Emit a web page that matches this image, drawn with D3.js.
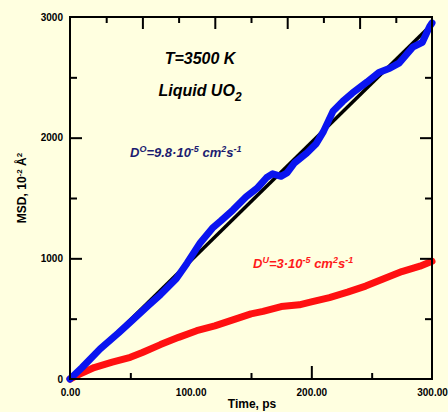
<!DOCTYPE html>
<html><head><meta charset="utf-8">
<script src="https://cdn.jsdelivr.net/npm/d3@7"></script>
<style>
html,body{margin:0;padding:0;background:#ffffe0;}
svg{display:block;}
</style></head>
<body>
<svg id="c" width="448" height="412"></svg>
<script>
// ---- data ----
const oxygenTime = [0,10,25,40,52,65,75,88,97,108,118,125,135,146,155,163,168,175,180,186,196,204,210,218,226,234,246,256,265,273,284,292,298,300];
const oxygenMSD  = [0,95,250,380,490,610,700,830,960,1130,1250,1310,1400,1510,1580,1670,1700,1680,1710,1790,1870,1950,2050,2220,2300,2370,2460,2540,2575,2620,2750,2790,2920,2950];
const uraniumTime = [0,8,20,35,50,60,75,90,105,120,135,150,160,175,190,200,215,230,245,260,275,290,300];
const uraniumMSD  = [0,40,95,140,180,220,285,345,400,440,490,540,560,600,615,640,675,720,770,830,890,935,975];
const fitTime = [0,300];
const fitMSD  = [0,2940];
const xLabelTicks = [0,100,200,300];
const xBottomMinor = [50,150,250];
const xBottomMajor = [200];
const xTopMinor = [30,90,150,210,270];
const xTopMajor = [60,120,180,240];
const yLabelTicks = [0,1000,2000,3000];
const yMinor = [500,1500,2500];
const yMajor = [1000,2000];

const svg = d3.select("#c");
const L=70,R=432,T=17,B=379;
const x = d3.scaleLinear().domain([0,300]).range([L,R]);
const y = d3.scaleLinear().domain([0,3000]).range([B,T]);

function tickAxis(axisFn, scale, vals, len, tx, ty){
  const g = svg.append("g").attr("transform",`translate(${tx},${ty})`)
    .call(axisFn(scale).tickValues(vals).tickSize(-len).tickFormat(""));
  g.select(".domain").remove();
  g.selectAll("line").attr("stroke","#000").attr("stroke-width",2);
}
// data lines
const line = d3.line().x(d=>x(d[0])).y(d=>y(d[1]));
svg.append("path").datum(fitTime.map((t,i)=>[t,fitMSD[i]])).attr("d",line)
  .attr("fill","none").attr("stroke","#000").attr("stroke-width",3.5);
svg.append("path").datum(uraniumTime.map((t,i)=>[t,uraniumMSD[i]])).attr("d",line)
  .attr("fill","none").attr("stroke","#ff1010").attr("stroke-width",7).attr("stroke-linejoin","round").attr("stroke-linecap","round");
svg.append("path").datum(oxygenTime.map((t,i)=>[t,oxygenMSD[i]])).attr("d",line)
  .attr("fill","none").attr("stroke","#0a14f0").attr("stroke-width",7).attr("stroke-linejoin","round").attr("stroke-linecap","round");

// ticks
tickAxis(d3.axisBottom, x, xBottomMinor, 6, 0, B);
tickAxis(d3.axisBottom, x, xBottomMajor, 13, 0, B);
tickAxis(d3.axisTop, x, xTopMinor, 6, 0, T);
tickAxis(d3.axisTop, x, xTopMajor, 12, 0, T);
tickAxis(d3.axisLeft, y, yMinor, 7, L, 0);
tickAxis(d3.axisLeft, y, yMajor, 12, L, 0);
tickAxis(d3.axisRight, y, yMinor, 7, R, 0);
tickAxis(d3.axisRight, y, yMajor, 12, R, 0);

// frame
svg.append("rect").attr("x",L).attr("y",T).attr("width",R-L).attr("height",B-T)
  .attr("fill","none").attr("stroke","#000").attr("stroke-width",2);

// tick labels
const fontF = "Liberation Sans, Arial, sans-serif";
const xl = svg.append("g").attr("transform",`translate(0,${B})`)
  .call(d3.axisBottom(x).tickValues(xLabelTicks).tickSize(0).tickPadding(10).tickFormat(d3.format(".2f")));
xl.select(".domain").remove();
xl.selectAll("text").attr("font-family",fontF).attr("font-weight","bold").attr("font-size",10).attr("fill","#000");
const yl = svg.append("g").attr("transform",`translate(${L},0)`)
  .call(d3.axisLeft(y).tickValues(yLabelTicks).tickSize(0).tickPadding(7).tickFormat(d3.format("d")));
yl.select(".domain").remove();
yl.selectAll("text").attr("font-family",fontF).attr("font-weight","bold").attr("font-size",10).attr("fill","#000");

// axis titles
svg.append("text").attr("x",252).attr("y",408).attr("text-anchor","middle")
  .attr("font-family",fontF).attr("font-weight","bold").attr("font-size",12).text("Time, ps");
const yt = svg.append("text").attr("transform","translate(26,188) rotate(-90)").attr("text-anchor","middle")
  .attr("font-family",fontF).attr("font-weight","bold").attr("font-size",12);
yt.append("tspan").text("MSD, 10");
yt.append("tspan").attr("dy",-4).attr("font-size",8).text("-2");
yt.append("tspan").attr("dy",4).text(" Å");
yt.append("tspan").attr("dy",-4).attr("font-size",8).text("2");

// annotations
svg.append("text").attr("x",200).attr("y",64).attr("text-anchor","middle")
  .attr("font-family",fontF).attr("font-weight","bold").attr("font-style","italic").attr("font-size",16).text("T=3500 K");
const lq = svg.append("text").attr("x",200).attr("y",96).attr("text-anchor","middle")
  .attr("font-family",fontF).attr("font-weight","bold").attr("font-style","italic").attr("font-size",16);
lq.append("tspan").text("Liquid UO");
lq.append("tspan").attr("dy",5).attr("font-size",12).text("2");

function dText(xp, yp, color, parts){
  const t = svg.append("text").attr("x",xp).attr("y",yp).attr("fill",color)
    .attr("font-family",fontF).attr("font-weight","bold").attr("font-style","italic").attr("font-size",13);
  let sup=false;
  parts.forEach(p=>{
    const s = t.append("tspan").text(p[0]);
    if(p[1] && !sup){ s.attr("dy",-5).attr("font-size",9); sup=true; }
    else if(!p[1] && sup){ s.attr("dy",5); sup=false; }
  });
}
dText(130,157,"#1c1c70",[["D",0],["O",1],["=9.8·10",0],["-5",1],[" cm",0],["2",1],["s",0],["-1",1]]);
dText(253,268,"#ff1a1a",[["D",0],["U",1],["=3·10",0],["-5",1],[" cm",0],["2",1],["s",0],["-1",1]]);
</script>
</body></html>
